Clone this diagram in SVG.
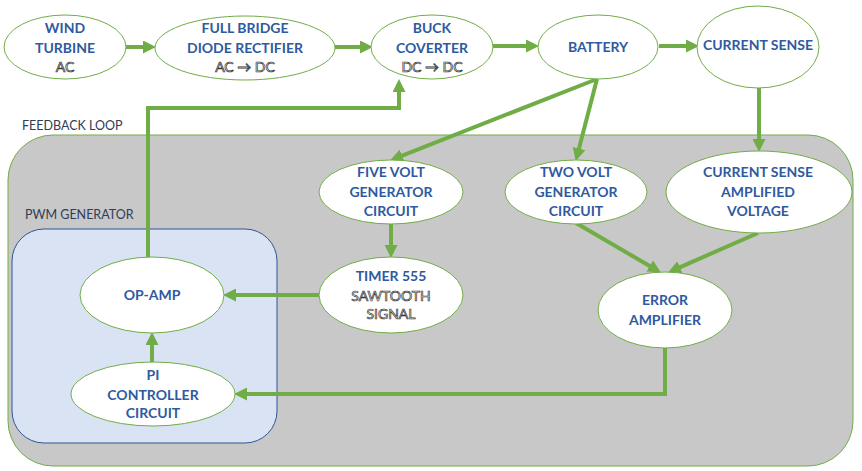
<svg xmlns="http://www.w3.org/2000/svg" width="862" height="471" viewBox="0 0 862 471">
<defs>
<marker id="ah" markerUnits="userSpaceOnUse" markerWidth="13" markerHeight="13" refX="4" refY="6.5" orient="auto">
<path d="M0,0 L13,6.5 L0,13 z" fill="#70ad47"/>
</marker>
<style>
.node ellipse{fill:#ffffff;stroke:#70ad47;stroke-width:1}
.t{font-family:Lato,"Liberation Sans",sans-serif;font-weight:bold;font-size:14px;fill:#2f5aa0;stroke:#ffffff;stroke-width:2;paint-order:stroke;text-anchor:middle}
.s{font-family:Lato,"Liberation Sans",sans-serif;font-size:14px;fill:#ffffff;stroke:#333333;stroke-width:0.7;text-anchor:middle}
.lbl{font-family:Lato,"Liberation Sans",sans-serif;font-size:12.5px;fill:#2f3d55}
.c{fill:none;stroke:#70ad47;stroke-width:4;marker-end:url(#ah)}
</style>
</defs>
<rect width="862" height="471" fill="#ffffff"/>
<g id="feedback-loop">
<rect x="8" y="135" width="845" height="331" rx="45" ry="45" fill="#c8c8c8" stroke="#70ad47" stroke-width="1"/>
<text class="lbl" x="22" y="130">FEEDBACK LOOP</text>
</g>
<g id="pwm-generator">
<rect x="12" y="229" width="265" height="214" rx="32" ry="32" fill="#dae3f3" stroke="#2f5597" stroke-width="1"/>
<text class="lbl" x="25" y="219">PWM GENERATOR</text>
</g>
<g id="connectors">
<path class="c" d="M125,47 H147"/>
<path class="c" d="M335,47 H364"/>
<path class="c" d="M493,46 H530"/>
<path class="c" d="M659,46 H690"/>
<path class="c" d="M148,257 V108 H399 V88"/>
<path class="c" d="M597,79 L398.4,157.1"/>
<path class="c" d="M597,79 L578,152.3"/>
<path class="c" d="M759,88 V143"/>
<path class="c" d="M391,223 V249"/>
<path class="c" d="M576,223 L653.1,268"/>
<path class="c" d="M758,233 L676.3,268.8"/>
<path class="c" d="M319,295 H232"/>
<path class="c" d="M665,348 V394 H243"/>
<path class="c" d="M152,362 V341"/>
</g>
<g id="wind-turbine" class="node">
<ellipse cx="65" cy="47" rx="61" ry="32"/>
<text class="t" x="65" y="33">WIND</text>
<text class="t" x="65" y="53">TURBINE</text>
<text class="s" x="65" y="72">AC</text>
</g>
<g id="full-bridge" class="node">
<ellipse cx="245" cy="48" rx="90" ry="32"/>
<text class="t" x="245" y="33">FULL BRIDGE</text>
<text class="t" x="245" y="53">DIODE RECTIFIER</text>
<text class="s" x="245" y="72">AC → DC</text>
</g>
<g id="buck-converter" class="node">
<ellipse cx="432" cy="47" rx="61" ry="32"/>
<text class="t" x="432" y="33">BUCK</text>
<text class="t" x="432" y="53">COVERTER</text>
<text class="s" x="432" y="72">DC → DC</text>
</g>
<g id="battery" class="node">
<ellipse cx="598" cy="47" rx="60" ry="32"/>
<text class="t" x="598" y="52">BATTERY</text>
</g>
<g id="current-sense" class="node">
<ellipse cx="758" cy="47" rx="61" ry="41"/>
<text class="t" x="758" y="50">CURRENT SENSE</text>
</g>
<g id="five-volt" class="node">
<ellipse cx="391" cy="192" rx="72" ry="32"/>
<text class="t" x="391" y="177">FIVE VOLT</text>
<text class="t" x="391" y="197">GENERATOR</text>
<text class="t" x="391" y="216">CIRCUIT</text>
</g>
<g id="two-volt" class="node">
<ellipse cx="576" cy="192" rx="71" ry="32"/>
<text class="t" x="576" y="177">TWO VOLT</text>
<text class="t" x="576" y="197">GENERATOR</text>
<text class="t" x="576" y="216">CIRCUIT</text>
</g>
<g id="current-sense-amplified" class="node">
<ellipse cx="759" cy="192" rx="93" ry="41"/>
<text class="t" x="758" y="177">CURRENT SENSE</text>
<text class="t" x="758" y="197">AMPLIFIED</text>
<text class="t" x="758" y="216">VOLTAGE</text>
</g>
<g id="timer-555" class="node">
<ellipse cx="391" cy="295" rx="72" ry="38"/>
<text class="t" x="391" y="281">TIMER 555</text>
<text class="s" x="391" y="301">SAWTOOTH</text>
<text class="s" x="391" y="319">SIGNAL</text>
</g>
<g id="error-amplifier" class="node">
<ellipse cx="665" cy="310" rx="67" ry="38"/>
<text class="t" x="665" y="305">ERROR</text>
<text class="t" x="665" y="325">AMPLIFIER</text>
</g>
<g id="op-amp" class="node">
<ellipse cx="152" cy="295" rx="72" ry="38"/>
<text class="t" x="152" y="300">OP-AMP</text>
</g>
<g id="pi-controller" class="node">
<ellipse cx="153" cy="394" rx="82" ry="32"/>
<text class="t" x="153" y="380">PI</text>
<text class="t" x="153" y="400">CONTROLLER</text>
<text class="t" x="153" y="418">CIRCUIT</text>
</g>
</svg>
